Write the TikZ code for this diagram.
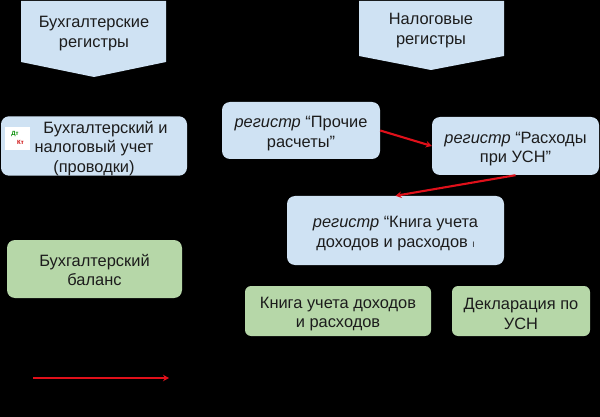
\documentclass[tikz,border=0pt]{standalone}
\usepackage{fontspec}
\setmainfont{Liberation Sans}
\usetikzlibrary{arrows.meta}
\definecolor{boxblue}{HTML}{CFE2F3}
\definecolor{boxgreen}{HTML}{B6D7A8}
\definecolor{ink}{HTML}{1C1C1C}
\definecolor{redline}{HTML}{E0101A}
\newcommand{\dropa}{\rule{0pt}{17pt}}
\tikzset{
  x=1pt,y=-1pt,
  card/.style={rounded corners=8pt,inner sep=0pt,align=center,text=ink,font=\fontsize{16.4}{19.5}\selectfont},
  bluecard/.style={card,fill=boxblue},
  greencard/.style={card,fill=boxgreen},
  pent/.style={fill=boxblue},
  pentlabel/.style={align=center,text=ink,inner sep=0pt,font=\fontsize{16.4}{20}\selectfont},
  link/.style={draw=redline,line width=2.1pt,-{Stealth[length=6pt,width=6.5pt]}},
}
\begin{document}
\begin{tikzpicture}
\useasboundingbox[fill=black] (0,0) rectangle (600,417);
% header arrows
\fill[pent] (21,1) -- (166,1) -- (166,62) -- (94,77) -- (21,62) -- cycle;
\node[pentlabel] (h1) at (94,33.5) {Бухгалтерские\\регистры};
\fill[pent] (359,1) -- (504,1) -- (504,56) -- (431,70) -- (359,56) -- cycle;
\node[pentlabel] (h2) at (431,30.5) {Налоговые\\регистры};
% blue cards
\node[bluecard,minimum width=186pt,minimum height=58pt] (acc) at (94,146)
  {\dropa\hspace*{23pt}Бухгалтерский и\\налоговый учет\\(проводки)};
\node[bluecard,minimum width=158pt,minimum height=57pt] (other) at (301,130.5)
  {\dropa\textit{регистр} “Прочие\\расчеты”};
\node[bluecard,minimum width=167pt,minimum height=58pt] (costs) at (515.5,146)
  {\dropa\textit{регистр} “Расходы\\при УСН”};
\node[bluecard,minimum width=217pt,minimum height=69pt] (book) at (395.5,230.5)
  {\dropa\textit{регистр} “Книга учета\\доходов и расходов {\fontsize{8}{8}\selectfont I}};
% icon
\node[fill=white,minimum width=25pt,minimum height=23pt,inner sep=0pt] (icon) at (17.5,138.5) {};
\node[text=green!55!black,font=\bfseries\fontsize{6}{6}\selectfont,inner sep=0pt] (dt) at (15,134) {Дт};
\node[text=red!80!black,font=\bfseries\fontsize{6}{6}\selectfont,inner sep=0pt] (kt) at (20.5,142) {Кт};
% green cards
\node[greencard,minimum width=175pt,minimum height=58pt] (bal) at (94.5,269)
  {\rule{0pt}{14pt}Бухгалтерский\\баланс};
\node[greencard,rounded corners=6pt,minimum width=186pt,minimum height=50pt] (bookout) at (338,311)
  {\dropa Книга учета доходов\\и расходов};
\node[greencard,rounded corners=6pt,minimum width=138pt,minimum height=50pt] (decl) at (521,311)
  {\dropa Декларация по\\УСН};
% connectors
\draw[link] (other.east) -- (costs.west);
\draw[link] (costs.south) -- (book.north);
\coordinate (ls) at (33,378);
\coordinate (le) at (169,378);
\draw[link] (ls) -- (le);
\end{tikzpicture}
\end{document}
